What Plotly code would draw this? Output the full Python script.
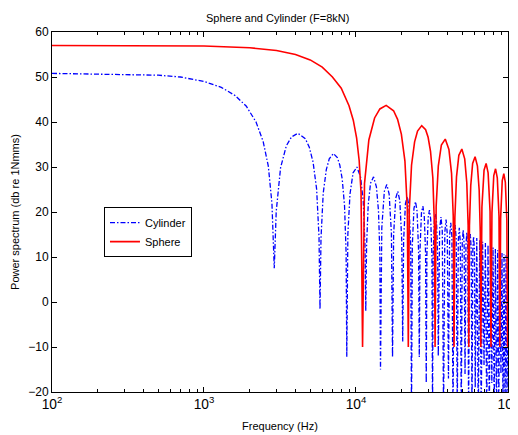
import plotly.graph_objects as go

# values (Hz, dB)
sphere_freq = [100, 1000, 2000, 3000, 4000, 5000, 6000, 7000, 8000, 9000, 9600, 10100, 10500, 10800, 11050,
               11380, 12155, 13260, 14365, 15800, 17680, 18785, 19890, 20995, 21770, 22100,
               22430, 23205, 24310, 25415, 27073, 28730, 29835, 30940, 32045, 32820, 33150,
               33700, 34810, 36465, 38675, 40885, 42545, 43650, 44200,
               44750, 45860, 47515, 49725, 51935, 53595, 54700, 55250,
               55800, 56910, 58565, 60775, 62985, 64645, 65750, 66300,
               67405, 69615, 71825, 74035, 76245, 77350,
               78455, 80665, 82875, 85085, 87295, 88400,
               89505, 91715, 93925, 96135, 98345, 99450,
               100000]
sphere_db = [57.0, 56.9, 56.5, 55.9, 55.0, 53.8, 52.2, 50.0, 47.5, 43.6, 40.4, 36.4, 31.4, 24.3, -10,
             26.3, 36.0, 40.9, 42.9, 43.7, 42.5, 40.6, 37.3, 31.3, 20.6, -10,
             20.4, 30.4, 35.6, 38.0, 39.2, 38.3, 36.6, 33.5, 27.6, 17.1, -10,
             21.3, 30.2, 34.9, 36.2, 33.9, 28.6, 19.1, -10,
             18.8, 27.8, 32.6, 34.0, 31.8, 26.5, 17.1, -10,
             16.9, 25.9, 30.8, 32.3, 30.2, 24.9, 15.5, -10,
             21.1, 29.3, 30.8, 28.7, 20.2, -10,
             19.8, 28.1, 29.6, 27.6, 19.1, -10,
             18.6, 27.0, 28.5, 26.6, 18.1, -10,
             -10]

cylinder_freq = [100, 300, 500, 700, 1000, 1300, 1600, 1900, 2200, 2450, 2650, 2800, 2900,
                 2987, 3190, 3480, 3770, 4147, 4640, 4930, 5220, 5510, 5713, 5800,
                 5887, 6090, 6380, 6670, 7105, 7540, 7830, 8120, 8410, 8613, 8700,
                 8845, 9135, 9570, 10150, 10730, 11165, 11455, 11600,
                 11745, 12035, 12470, 13050, 13630, 14065, 14355, 14500,
                 14790, 15370, 15950, 16530, 17110, 17400,
                 17690, 18270, 18850, 19430, 20010, 20300,
                 20590, 21170, 21750, 22330, 22910, 23200,
                 23490, 24070, 24650, 25230, 25810, 26100,
                 26390, 26970, 27550, 28130, 28710, 29000,
                 29290, 29870, 30450, 31030, 31610, 31900,
                 32190, 32770, 33350, 33930, 34510, 34800,
                 35525, 36250, 36975, 37700,
                 38425, 39150, 39875, 40600,
                 41325, 42050, 42775, 43500,
                 44225, 44950, 45675, 46400,
                 47125, 47850, 48575, 49300,
                 50025, 50750, 51475, 52200,
                 52925, 53650, 54375, 55100,
                 55825, 56550, 57275, 58000,
                 58725, 59450, 60175, 60900,
                 62350, 63800, 65250, 66700, 68150, 69600, 71050, 72500,
                 73950, 75400, 76850, 78300, 79750, 81200, 82650, 84100,
                 85550, 87000, 88450, 89900, 91350, 92800, 94250, 95700,
                 97150, 98600, 100000]
cylinder_db = [50.8, 50.6, 50.4, 50.0, 49.0, 47.7, 45.9, 43.5, 40.0, 35.7, 30.2, 21.9, 7.5,
               20.1, 29.8, 34.7, 36.7, 37.5, 36.3, 34.4, 31.1, 25.1, 14.4, -1.6,
               14.2, 24.2, 29.4, 31.8, 33.0, 32.1, 30.4, 27.3, 21.4, 10.9, -12.2,
               15.1, 24.0, 28.7, 30.0, 27.7, 22.4, 12.9, -2.0,
               12.6, 21.6, 26.4, 27.8, 25.6, 20.3, 10.9, -15.0,
               16.5, 24.6, 26.1, 24.0, 15.3, -12.2,
               15.0, 23.1, 24.6, 22.5, 13.8, -8.8,
               13.8, 21.9, 23.4, 21.3, 12.6, -25,
               12.7, 20.8, 22.3, 20.2, 11.5, -12.2,
               11.6, 19.8, 21.3, 19.3, 10.8, -18,
               10.6, 18.8, 20.4, 18.4, 10.0, -25,
               9.8, 18.0, 19.6, 17.6, 9.2, -12,
               16.1, 18.9, 15.8, -25,
               15.5, 18.3, 15.2, -17,
               14.8, 17.6, 14.5, -25,
               14.3, 17.1, 14.0, -25,
               13.7, 16.5, 13.4, -25,
               13.2, 16.0, 12.9, -16,
               12.7, 15.5, 12.4, -25,
               12.3, 15.1, 12.0, -25,
               11.8, 14.6, 11.5, -19,
               14.2, -25, 13.8, -25, 13.4, -14, 13.1, -25,
               12.7, -25, 12.4, -18, 12.1, -25, 11.8, -25,
               11.5, -25, 11.2, -16, 10.9, -25, 10.6, -25,
               10.4, -25, 10.1]

font = "Liberation Sans, Arial, sans-serif"

fig = go.Figure()
fig.add_trace(go.Scatter(
    x=cylinder_freq, y=cylinder_db, mode='lines', name='Cylinder',
    line=dict(color='#0000ff', width=1.3, dash='5px,2px,1.5px,2px')
))
fig.add_trace(go.Scatter(
    x=sphere_freq, y=sphere_db, mode='lines', name='Sphere',
    line=dict(color='#ff0000', width=1.6)
))

axis_style = dict(
    showline=True, linecolor='black', linewidth=1, mirror='allticks',
    ticks='inside', ticklen=5, tickcolor='black', showgrid=False, zeroline=False,
    automargin=False, ticklabeloverflow='allow',
)
fig.update_xaxes(
    type='log', range=[2, 5.0003], dtick=1, exponentformat='power',
    minor=dict(ticks='inside', ticklen=3, dtick='D1', tickcolor='black', showgrid=False),
    tickfont=dict(size=11, color='black', family=font),
    title=dict(text='Frequency (Hz)', font=dict(size=11, color='black', family=font), standoff=11),
    **axis_style
)
fig.update_yaxes(
    range=[-20, 60], dtick=10,
    tickfont=dict(size=12, color='black', family=font),
    title=dict(text='Power spectrum (db re 1Nmms)', font=dict(size=11, color='black', family=font), standoff=6),
    **axis_style
)

# page body adds an 8px offset, so the figure is 8px smaller than the window
fig.update_layout(
    width=510, height=427,
    margin=dict(l=44, r=10, t=24, b=43),
    paper_bgcolor='white', plot_bgcolor='white',
    font=dict(family=font, size=11, color='black'),
    title=dict(text='Sphere and Cylinder (F=8kN)', xref='paper', x=0.495, xanchor='center',
               yref='container', y=0.977, yanchor='middle',
               font=dict(size=11, color='black', family=font)),
    showlegend=True,
    legend=dict(x=0.114, y=0.444, xanchor='left', yanchor='middle',
                bgcolor='white', bordercolor='black', borderwidth=1,
                itemwidth=30, tracegroupgap=0, font=dict(size=11, color='black', family=font)),
)
fig.write_html("out.html")
